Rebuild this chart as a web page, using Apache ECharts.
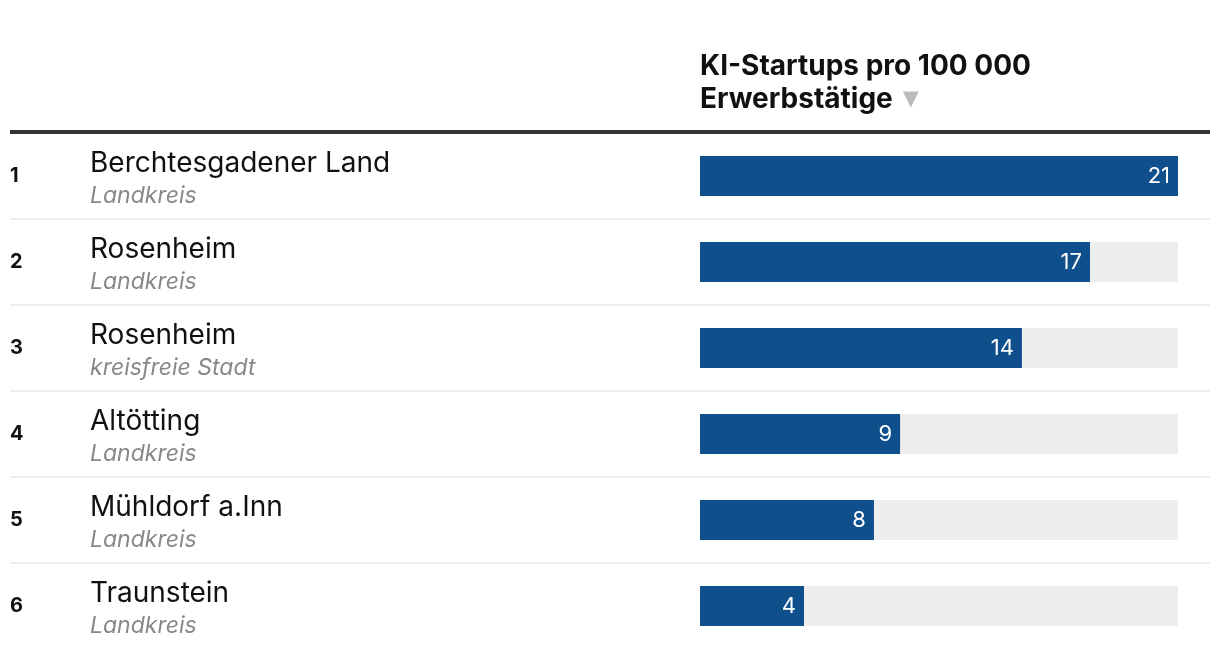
<!DOCTYPE html>
<html>
<head>
<meta charset="utf-8">
<script src="https://cdn.jsdelivr.net/npm/echarts@6/dist/echarts.min.js"></script>
<style>
html,body{margin:0;padding:0;background:#fff;}
#chart{width:1220px;height:658px;}
</style>
</head>
<body>
<div id="chart"></div>
<script>
const ranks = ['1', '2', '3', '4', '5', '6'];
const names = ['Berchtesgadener Land', 'Rosenheim', 'Rosenheim', 'Altötting', 'Mühldorf a.Inn', 'Traunstein'];
const types = ['Landkreis', 'Landkreis', 'kreisfreie Stadt', 'Landkreis', 'Landkreis', 'Landkreis'];
const values = [20.64, 16.84, 13.9, 8.64, 7.51, 4.49];
const headerLine1 = 'KI-Startups pro 100 000';
const headerLine2 = 'Erwerbstätige';

const FONT = 'Inter, "Noto Sans", sans-serif';
const chart = echarts.init(document.getElementById('chart'), null, {renderer: 'canvas'});
const gridTop = 133, gridLeft = 700, gridRight = 42, gridBottom = 9;
const maxVal = Math.max.apply(null, values);

const option = {
  animation: false,
  backgroundColor: '#ffffff',
  textStyle: {fontFamily: FONT},
  grid: {left: gridLeft, right: gridRight, top: gridTop, bottom: gridBottom, containLabel: false},
  xAxis: {type: 'value', min: 0, max: maxVal, show: false},
  yAxis: [
    {
      type: 'category', data: ranks, inverse: true, position: 'left',
      axisLine: {show: false}, axisTick: {show: false}, splitLine: {show: false},
      axisLabel: {
        margin: gridLeft - 10, align: 'left', fontFamily: FONT, fontSize: 20,
        fontWeight: 'bold', color: '#111111', padding: [6, 0, 0, 0]
      }
    },
    {
      type: 'category', data: names.map((n, i) => i), inverse: true, position: 'left', offset: 0,
      axisLine: {show: false}, axisTick: {show: false}, splitLine: {show: false},
      axisLabel: {
        margin: gridLeft - 90, align: 'left', padding: [7, 0, 0, 0],
        formatter: function (v) {
          const i = Number(v);
          return '{n|' + names[i] + '}\n{s|' + types[i] + '}';
        },
        rich: {
          n: {fontFamily: FONT, fontSize: 28, color: '#111111', lineHeight: 33},
          s: {fontFamily: FONT, fontSize: 23, fontStyle: 'italic', color: '#888888', lineHeight: 32}
        }
      }
    }
  ],
  series: [{
    type: 'bar',
    yAxisIndex: 0,
    data: values,
    barWidth: 40,
    showBackground: true,
    backgroundStyle: {color: '#eeeeee'},
    itemStyle: {color: '#0f4f8b'},
    label: {
      show: true, position: 'insideRight', distance: 8,
      formatter: p => String(Math.round(p.value)),
      color: '#ffffff', fontFamily: FONT, fontSize: 22
    }
  }]
};
chart.setOption(option);

const graphics = [];
graphics.push({
  type: 'rect', shape: {x: 10, y: gridTop - 3, width: 1200, height: 4},
  style: {fill: '#333333'}, z: 10
});
for (let k = 1; k < ranks.length; k++) {
  const y0 = chart.convertToPixel({yAxisIndex: 0}, ranks[k - 1]);
  const y1 = chart.convertToPixel({yAxisIndex: 0}, ranks[k]);
  const y = Math.round((y0 + y1) / 2);
  graphics.push({
    type: 'rect', shape: {x: 10, y: y - 1, width: 1200, height: 2},
    style: {fill: '#ededed'}, z: 1
  });
}
graphics.push({
  type: 'text', x: gridLeft, y: 67,
  style: {text: headerLine1, fontFamily: FONT, fontSize: 28, fontWeight: 'bold', fill: '#111111',
    verticalAlign: 'middle', align: 'left'}
});
graphics.push({
  type: 'text', x: gridLeft, y: 100,
  style: {
    text: '{h|' + headerLine2 + '}{g| }{t|▼}',
    verticalAlign: 'middle', align: 'left',
    rich: {
      h: {fontFamily: FONT, fontSize: 28, fontWeight: 'bold', fill: '#111111', color: '#111111'},
      g: {fontFamily: FONT, fontSize: 28, width: 10},
      t: {fontFamily: '"DejaVu Sans", sans-serif', fontSize: 21, fill: '#bbbbbb', color: '#bbbbbb'}
    }
  }
});
chart.setOption({graphic: graphics});
</script>
</body>
</html>
